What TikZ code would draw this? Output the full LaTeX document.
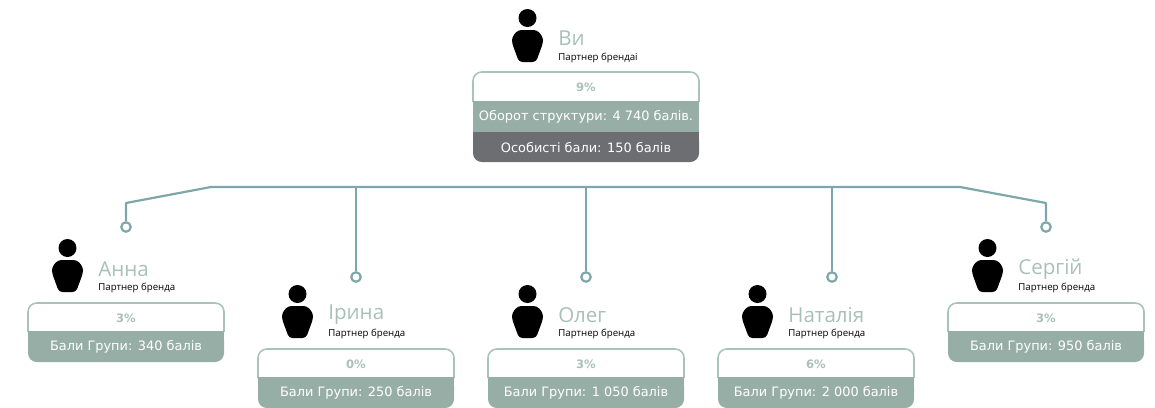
\documentclass[tikz,border=0pt]{standalone}
\usepackage{fontspec}
\setmainfont{DejaVu Sans}
\newfontfamily\namefont{Open Sans}
\definecolor{cardgreen}{HTML}{97AEA6}
\definecolor{cardgrey}{HTML}{6D6E71}
\definecolor{cardedge}{HTML}{A9C2BA}
\definecolor{namecol}{HTML}{A9C0B8}
\definecolor{buscol}{HTML}{7FA6AA}
\tikzset{
  bus/.style={draw=buscol, line width=1.25pt, line join=round},
  pin/.style={circle, draw=buscol, line width=1.25pt, fill=white, inner sep=0pt, minimum size=5.4pt},
  personname/.style={anchor=west, inner sep=0pt, text=namecol, font=\namefont\fontsize{11.7}{12}\selectfont},
  personrole/.style={anchor=west, inner sep=0pt, text=black, font=\namefont\fontsize{5.5}{5.5}\selectfont},
  percent/.style={inner sep=0pt, text=namecol, font=\fontsize{6.6}{6.6}\selectfont\bfseries},
  cardtext/.style={inner sep=0pt, text=white, font=\fontsize{7.35}{7.35}\selectfont},
}
% #1 x of icon, #2 y of icon top
\newcommand{\personicon}[2]{
  \fill (#1+15.5,#2+9) circle (9);
  \fill[rounded corners=1.9pt] (#1+6,#2+21) -- (#1+25,#2+21) -- (#1+31,#2+28) -- (#1+31,#2+34)
    -- (#1+24,#2+53) -- (#1+7,#2+53) -- (#1,#2+34) -- (#1,#2+28) -- cycle;
}
% #1 node name, #2 left, #3 top, #4 person, #5 role, #6 percent, #7 points
\newcommand{\partnercard}[7]{
  \personicon{#2+24}{#3-64}
  \node[personname] (#1name) at (#2+70,#3-34) {#4};
  \node[personrole] (#1role) at (#2+70,#3-15) {#5};
  \draw[cardedge, line width=.9pt, rounded corners=5pt] (#2,#3+29) -- (#2,#3) -- (#2+196,#3) -- (#2+196,#3+29);
  \fill[cardgreen, rounded corners=5pt] (#2,#3+28) -- (#2,#3+59) -- (#2+196,#3+59) -- (#2+196,#3+28) [sharp corners] -- cycle;
  \fill[cardgreen] (#2,#3+28) rectangle (#2+196,#3+36);
  \node[percent] (#1pct) at (#2+98,#3+15) {#6};
  \node[cardtext] (#1pts) at (#2+98,#3+44) {#7};
}
\begin{document}
\begin{tikzpicture}[x=0.02cm,y=-0.02cm]
\useasboundingbox (0,0) rectangle (1155,407);

% top card
\personicon{512}{9}
\node[personname] (youname) at (558,38) {Ви};
\node[personrole] (yourole) at (558,58) {Партнер брендаі};
\draw[cardedge, line width=.9pt, rounded corners=5pt] (473,102) -- (473,72) -- (699,72) -- (699,102);
\fill[cardgreen] (473,101) rectangle (699,132);
\fill[cardgrey, rounded corners=5pt] (473,132) -- (473,162) -- (699,162) -- (699,132) [sharp corners] -- cycle;
\fill[cardgrey] (473,132) rectangle (699,140);
\node[percent] (youpct) at (586,87) {9\%};
\node[cardtext] (youturn) at (586,117) {Оборот структури: 4 740 балів.};
\node[cardtext] (youpts) at (586,148) {Особисті бали: 150 балів};

\partnercard{anna}{28}{303}{Анна}{Партнер бренда}{3\%}{Бали Групи: 340 балів}
\partnercard{iryna}{258}{349}{Ірина}{Партнер бренда}{0\%}{Бали Групи: 250 балів}
\partnercard{oleh}{488}{349}{Олег}{Партнер бренда}{3\%}{Бали Групи: 1 050 балів}
\partnercard{natalia}{718}{349}{Наталія}{Партнер бренда}{6\%}{Бали Групи: 2 000 балів}
\partnercard{serhii}{948}{303}{Сергій}{Партнер бренда}{3\%}{Бали Групи: 950 балів}

% connectors
\node[pin] (pinanna) at (126,227) {};
\node[pin] (piniryna) at (356,277) {};
\node[pin] (pinoleh) at (586,277) {};
\node[pin] (pinnatalia) at (832,277) {};
\node[pin] (pinserhii) at (1046,227) {};
\coordinate (busleft) at (211,187);
\coordinate (busright) at (960,187);
\draw[bus] (pinanna) -- (126,203) -- (busleft) -- (busright) -- (1046,203) -- (pinserhii);
\draw[bus] (piniryna) -- (piniryna |- busleft);
\draw[bus] (pinoleh) -- (pinoleh |- busleft);
\draw[bus] (pinnatalia) -- (pinnatalia |- busleft);
\end{tikzpicture}
\end{document}
